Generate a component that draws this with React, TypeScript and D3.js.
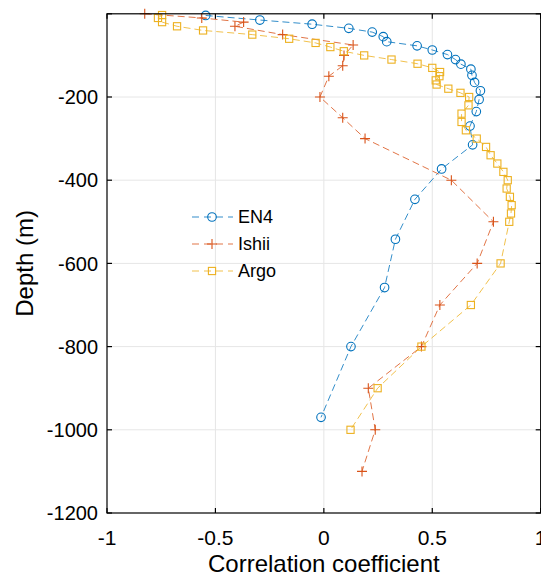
import React, { useEffect, useRef } from "react";
import * as d3 from "d3";

// depth (m, positive down) and correlation for each product
const en4Depth = [4, 15, 25, 35, 44, 55, 67, 77, 87, 98, 110, 121, 133, 148, 165, 185, 206, 235, 270, 315, 373, 446, 542, 658, 800, 970];
const en4Corr = [-0.545, -0.295, -0.054, 0.115, 0.223, 0.274, 0.29, 0.43, 0.5, 0.57, 0.607, 0.632, 0.678, 0.683, 0.695, 0.722, 0.716, 0.703, 0.674, 0.686, 0.543, 0.42, 0.33, 0.28, 0.125, -0.013];

const ishiiDepth = [0, 10, 20, 30, 50, 75, 100, 125, 150, 200, 250, 300, 400, 500, 600, 700, 800, 900, 1000, 1100];
const ishiiCorr = [-0.826, -0.563, -0.37, -0.41, -0.19, 0.135, 0.093, 0.087, 0.023, -0.018, 0.087, 0.19, 0.588, 0.782, 0.707, 0.535, 0.45, 0.205, 0.237, 0.176];

const argoDepth = [3, 10, 20, 30, 40, 50, 60, 70, 80, 90, 100, 110, 120, 130, 140, 150, 160, 170, 180, 190, 200, 220, 240, 260, 280, 300, 320, 340, 360, 380, 400, 420, 440, 460, 480, 500, 600, 700, 800, 900, 1000];
const argoCorr = [-0.746, -0.765, -0.746, -0.677, -0.557, -0.33, -0.16, -0.038, 0.03, 0.092, 0.186, 0.312, 0.432, 0.5, 0.536, 0.533, 0.516, 0.52, 0.574, 0.63, 0.67, 0.667, 0.635, 0.635, 0.655, 0.705, 0.748, 0.769, 0.8, 0.828, 0.848, 0.843, 0.858, 0.866, 0.863, 0.855, 0.815, 0.678, 0.45, 0.248, 0.123];

const xTicks = [-1, -0.5, 0, 0.5, 1];
const yTicks = [-1200, -1000, -800, -600, -400, -200, 0];

const seriesNames = ["EN4", "Ishii", "Argo"];
const seriesColors = ["#0072BD", "#D95319", "#EDB120"];
const seriesMarkers = ["circle", "plus", "square"];

const W = 541;
const H = 577;
const FONT = "'Liberation Sans', Arial, Helvetica, sans-serif";

const App = () => {
    const svgRef = useRef<SVGSVGElement>(null);

    useEffect(() => {
        const margin = { left: 107, top: 13.8, right: 0.3, bottom: 64 };
        const x = d3.scaleLinear().domain([-1, 1]).range([margin.left, W - margin.right]);
        const y = d3.scaleLinear().domain([-1200, 0]).range([H - margin.bottom, margin.top]);

        const svg = d3.select(svgRef.current);
        svg.selectAll("*").remove();

        const x0 = x(-1), x1 = x(1), y0 = y(-1200), y1 = y(0);

        // grid
        const grid = svg.append("g").attr("stroke", "#e6e6e6").attr("stroke-width", 1);
        grid.selectAll("line.gx")
            .data(xTicks.slice(1, -1))
            .join("line")
            .attr("x1", (d) => x(d)).attr("x2", (d) => x(d))
            .attr("y1", y1).attr("y2", y0);
        grid.selectAll("line.gy")
            .data(yTicks.slice(1, -1))
            .join("line")
            .attr("x1", x0).attr("x2", x1)
            .attr("y1", (d) => y(d)).attr("y2", (d) => y(d));

        const series = [
            { depth: en4Depth, corr: en4Corr },
            { depth: ishiiDepth, corr: ishiiCorr },
            { depth: argoDepth, corr: argoCorr },
        ];

        const drawMarker = (g, kind, color, cx, cy) => {
            if (kind === "circle") {
                g.append("circle").attr("cx", cx).attr("cy", cy).attr("r", 4.3)
                    .attr("fill", "none").attr("stroke", color).attr("stroke-width", 1.1);
            } else if (kind === "square") {
                g.append("rect").attr("x", cx - 3.6).attr("y", cy - 3.6).attr("width", 7.2).attr("height", 7.2)
                    .attr("fill", "none").attr("stroke", color).attr("stroke-width", 1.1);
            } else {
                g.append("path").attr("d", `M${cx - 5},${cy}H${cx + 5}M${cx},${cy - 5}V${cy + 5}`)
                    .attr("fill", "none").attr("stroke", color).attr("stroke-width", 1.1);
            }
        };

        const line = d3.line<number>();

        series.forEach((s, i) => {
            const pts = s.depth.map((dp, j) => [x(s.corr[j]), y(-dp)] as [number, number]);
            const g = svg.append("g");
            g.append("path")
                .attr("d", line(pts as any))
                .attr("fill", "none")
                .attr("stroke", seriesColors[i])
                .attr("stroke-width", 1)
                .attr("stroke-opacity", 0.8)
                .attr("stroke-dasharray", "7,4");
            pts.forEach(([px, py]) => drawMarker(g, seriesMarkers[i], seriesColors[i], px, py));
        });

        // axes box and ticks
        const ax = svg.append("g").attr("stroke", "#000").attr("stroke-width", 1.2).attr("fill", "none");
        ax.append("rect").attr("x", x0).attr("y", y1).attr("width", x1 - x0).attr("height", y0 - y1);
        const tl = 5;
        xTicks.forEach((t) => {
            ax.append("line").attr("x1", x(t)).attr("x2", x(t)).attr("y1", y0).attr("y2", y0 - tl);
            ax.append("line").attr("x1", x(t)).attr("x2", x(t)).attr("y1", y1).attr("y2", y1 + tl);
        });
        yTicks.forEach((t) => {
            ax.append("line").attr("x1", x0).attr("x2", x0 + tl).attr("y1", y(t)).attr("y2", y(t));
            ax.append("line").attr("x1", x1).attr("x2", x1 - tl).attr("y1", y(t)).attr("y2", y(t));
        });

        const labels = svg.append("g").attr("font-family", FONT).attr("fill", "#000");
        labels.selectAll("text.xt")
            .data(xTicks)
            .join("text")
            .attr("x", (d) => x(d))
            .attr("y", y0 + 32)
            .attr("text-anchor", "middle")
            .attr("font-size", 21)
            .text((d) => String(d));
        labels.selectAll("text.yt")
            .data(yTicks.slice(0, -1))
            .join("text")
            .attr("x", x0 - 9)
            .attr("y", (d) => y(d))
            .attr("dy", "0.36em")
            .attr("text-anchor", "end")
            .attr("font-size", 20)
            .text((d) => String(d));

        labels.append("text")
            .attr("x", (x0 + x1) / 2)
            .attr("y", 572)
            .attr("text-anchor", "middle")
            .attr("font-size", 24)
            .text("Correlation coefficient");
        labels.append("text")
            .attr("transform", `translate(33,${(y0 + y1) / 2}) rotate(-90)`)
            .attr("text-anchor", "middle")
            .attr("font-size", 24)
            .text("Depth (m)");

        // legend
        const leg = svg.append("g").attr("font-family", FONT);
        seriesNames.forEach((name, i) => {
            const ly = 217 + i * 27;
            leg.append("line")
                .attr("x1", 192).attr("x2", 233).attr("y1", ly).attr("y2", ly)
                .attr("stroke", seriesColors[i]).attr("stroke-width", 1).attr("stroke-opacity", 0.8)
                .attr("stroke-dasharray", "7,5");
            drawMarker(leg, seriesMarkers[i], seriesColors[i], 212, ly);
            leg.append("text")
                .attr("x", 238).attr("y", ly).attr("dy", "0.36em")
                .attr("font-size", 18)
                .attr("fill", "#000")
                .text(name);
        });
    }, []);

    return (
        <div style={{ position: "absolute", left: 0, top: 0 }}>
            <svg ref={svgRef} width={W} height={H} style={{ display: "block", background: "#fff" }} />
        </div>
    );
};

export default App;
